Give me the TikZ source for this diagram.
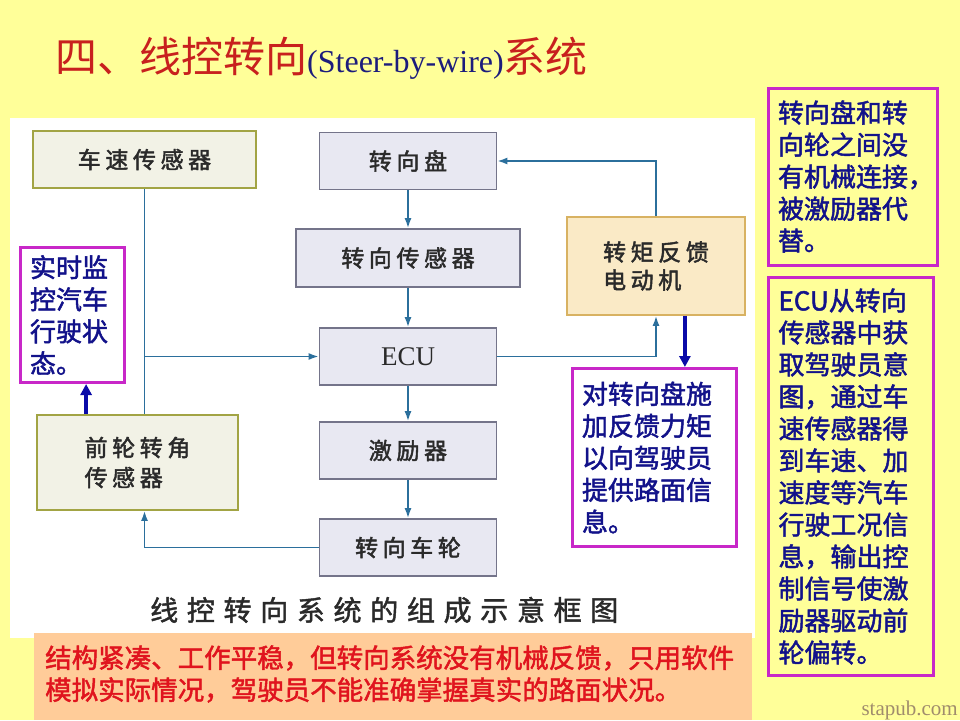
\documentclass[tikz,border=0pt]{standalone}
\usepackage{fontspec}
\usepackage{xcolor}
\usepackage{tikz}
\usetikzlibrary{calc,arrows.meta}
\setmainfont{Liberation Serif}
\newfontfamily\cjk{Noto Sans CJK SC}
\newfontfamily\cjkbold[FakeBold=1.8]{Noto Sans CJK SC}
\newfontfamily\cjkbox[LetterSpace=20,FakeBold=2]{Noto Sans CJK SC}
\newfontfamily\cjkcap[LetterSpace=31,FakeBold=1.5]{Noto Sans CJK SC}
\definecolor{slide}{HTML}{FFFF99}
\definecolor{titlered}{HTML}{C8201E}
\definecolor{titleblue}{HTML}{1C1C7C}
\definecolor{wire}{HTML}{2B6F9C}
\definecolor{grayfill}{HTML}{E8E8F2}
\definecolor{grayline}{HTML}{74748A}
\definecolor{olivefill}{HTML}{F2F2E6}
\definecolor{oliveline}{HTML}{A2A444}
\definecolor{motorfill}{HTML}{FAEAC6}
\definecolor{motorline}{HTML}{D8B262}
\definecolor{frame}{HTML}{C828C8}
\definecolor{notetext}{HTML}{12128A}
\definecolor{pointer}{HTML}{0A0AA8}
\definecolor{band}{HTML}{FFCC99}
\definecolor{bandtext}{HTML}{E0141E}
\definecolor{boxtext}{HTML}{2A2A2A}
\definecolor{stamp}{HTML}{A08C6C}
\tikzset{
  block/.style={draw=grayline, fill=grayfill, line width=1.8pt, minimum width=177pt, minimum height=57pt, inner sep=0pt, text=boxtext, font=\cjkbox\fontsize{23}{28}\selectfont},
  sensor/.style={block, draw=oliveline, fill=olivefill},
  motorbox/.style={block, draw=motorline, fill=motorfill},
  link/.style={draw=wire, line width=1.6pt},
  flow/.style={link, -{Latex[length=10pt,width=7pt]}},
  note/.style={draw=frame, line width=3pt, fill=white, inner xsep=10pt, inner ysep=0pt, align=left, text=notetext, font=\cjkbold\fontsize{26}{32}\selectfont},
  pointerarrow/.style={draw=pointer, line width=3.5pt, -{Triangle[length=11pt,width=11pt]}}
}

\begin{document}
\begin{tikzpicture}[x=1pt,y=-1pt]
  \useasboundingbox (0,0) rectangle (960,720);
  \fill[slide] (0,0) rectangle (960,720);
  \fill[white] (10,118) rectangle (755,638);
  \fill[band] (34,633) rectangle (752,720);

  \node[anchor=base west, inner sep=0pt] (title) at (55,72) {\cjk\fontsize{42}{42}\selectfont\color{titlered}四、线控转向{\rmfamily\fontsize{32}{32}\selectfont\color{titleblue}(Steer-by-wire)}系统};

  % block diagram
  \node[sensor, minimum width=223pt] (speed) at (144.5,159.5) {车速传感器};
  \node[block] (wheel) at (408,161) {转向盘};
  \node[block, minimum width=224pt, minimum height=58pt] (steer) at (408,258) {转向传感器};
  \node[block, font=\fontsize{27}{27}\selectfont] (ecu) at (408,356.5) {ECU};
  \node[motorbox, minimum width=178pt, minimum height=98pt, align=left] (motor) at (656,266) {转矩反馈\\电动机};
  \node[block] (actuator) at (408,450.5) {激励器};
  \node[block] (roadwheel) at (408,547.5) {转向车轮};
  \node[sensor, minimum width=201pt, minimum height=95pt, align=left, font=\cjkbox\fontsize{23}{30}\selectfont] (front) at (137.5,462.5) {前轮转角\\传感器};

  \draw[link] (speed.south) -- (speed.south |- front.north);
  \draw[flow] (speed.south |- ecu.west) -- (ecu.west);
  \draw[flow] (wheel.south) -- (steer.north);
  \draw[flow] (steer.south) -- (ecu.north);
  \draw[flow] (ecu.south) -- (actuator.north);
  \draw[flow] (actuator.south) -- (roadwheel.north);
  \draw[flow] (ecu.east) -| (motor.south);
  \draw[flow] (motor.north) |- (wheel.east);
  \draw[flow] (roadwheel.west) -| (speed.south |- front.south);

  \node[anchor=west, inner sep=0pt, text=boxtext, font=\cjkcap\fontsize{28}{28}\selectfont] (caption) at (150,610) {线控转向系统的组成示意框图};

  % notes
  \node[note, text width=84pt, minimum height=135pt] (live) at (72,315) {实时监\\控汽车\\行驶状\\态。};
  \node[note, text width=144pt, minimum height=178pt] (feel) at (654,457.5) {对转向盘施\\加反馈力矩\\以向驾驶员\\提供路面信\\息。};
  \node[note, fill=slide, text width=149pt, minimum height=177pt] (nolink) at (852.5,176.5) {转向盘和转\\向轮之间没\\有机械连接，\\被激励器代\\替。};
  \node[note, fill=slide, text width=145pt, minimum height=398pt] (ecuinfo) at (851,476.5) {ECU从转向\\传感器中获\\取驾驶员意\\图，通过车\\速传感器得\\到车速、加\\速度等汽车\\行驶工况信\\息，输出控\\制信号使激\\励器驱动前\\轮偏转。};

  \coordinate (up) at ($(front.north west)+(50,0)$);
  \coordinate (down) at ($(motor.south east)+(-61,0)$);
  \draw[pointerarrow] (up) -- (up |- live.south);
  \draw[pointerarrow] (down) -- (down |- feel.north);

  \node[anchor=west, inner sep=0pt, align=left, text=bandtext, font=\cjkbold\fontsize{26.5}{32}\selectfont] (summary) at (45,674) {结构紧凑、工作平稳，但转向系统没有机械反馈，只用软件\\模拟实际情况，驾驶员不能准确掌握真实的路面状况。};

  \node[anchor=base east, inner sep=0pt, text=stamp, font=\fontsize{21}{21}\selectfont] (site) at (958,715) {stapub.com};
\end{tikzpicture}
\end{document}
